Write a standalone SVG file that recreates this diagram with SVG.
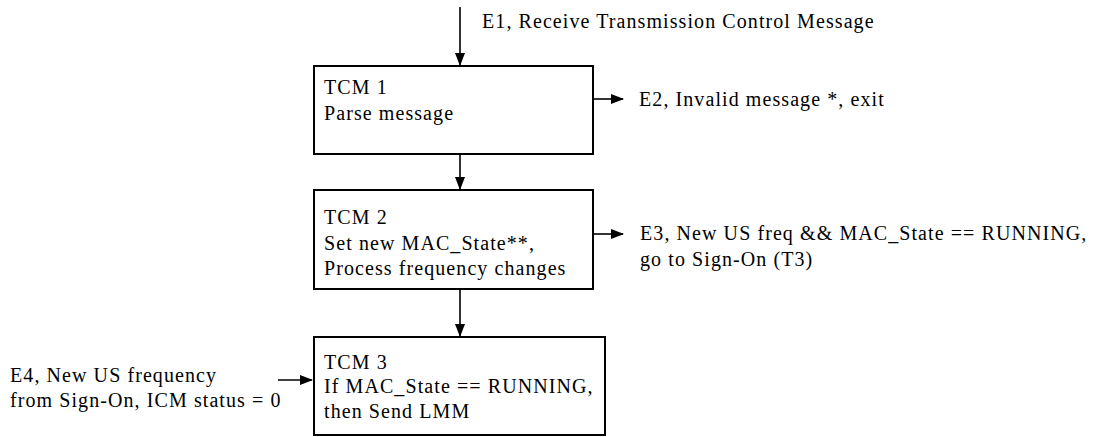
<svg xmlns="http://www.w3.org/2000/svg" width="1097" height="437" viewBox="0 0 1097 437">
<defs>
<style>
.t{font-family:"Liberation Serif","Times New Roman",serif;font-size:20px;letter-spacing:1.08px;fill:#000}
.box{fill:#fff;stroke:#000;stroke-width:2}
.ln{stroke:#000;stroke-width:1.6;fill:none}
</style>
<marker id="ah" markerWidth="13" markerHeight="10" refX="12" refY="5" orient="auto" markerUnits="userSpaceOnUse">
<path d="M0,0 L13,5 L0,10 Z" fill="#000"/>
</marker>
</defs>
<rect width="1097" height="437" fill="#fff"/>
<g id="connectors">
<line class="ln" x1="460" y1="7" x2="460" y2="65" marker-end="url(#ah)"/>
<line class="ln" x1="594" y1="99" x2="623" y2="99" marker-end="url(#ah)"/>
<line class="ln" x1="460" y1="155" x2="460" y2="189" marker-end="url(#ah)"/>
<line class="ln" x1="594" y1="234" x2="623" y2="234" marker-end="url(#ah)"/>
<line class="ln" x1="460" y1="290" x2="460" y2="336" marker-end="url(#ah)"/>
<line class="ln" x1="278" y1="380" x2="312" y2="380" marker-end="url(#ah)"/>
</g>
<g id="label-e1"><text class="t" x="482" y="28">E1, Receive Transmission Control Message</text></g>
<g id="tcm1">
<rect class="box" x="314" y="66" width="279" height="88"/>
<text class="t" x="324" y="94">TCM 1</text>
<text class="t" x="324" y="120">Parse message</text>
</g>
<g id="label-e2"><text class="t" x="639" y="106">E2, Invalid message *, exit</text></g>
<g id="tcm2">
<rect class="box" x="314" y="190" width="279" height="99"/>
<text class="t" x="324" y="224">TCM 2</text>
<text class="t" x="324" y="250">Set new MAC_State**,</text>
<text class="t" x="324" y="275">Process frequency changes</text>
</g>
<g id="label-e3">
<text class="t" x="640" y="240">E3, New US freq &amp;&amp; MAC_State == RUNNING,</text>
<text class="t" x="640" y="266">go to Sign-On (T3)</text>
</g>
<g id="tcm3">
<rect class="box" x="314" y="337" width="291" height="98"/>
<text class="t" x="324" y="369">TCM 3</text>
<text class="t" x="324" y="393">If MAC_State == RUNNING,</text>
<text class="t" x="324" y="418">then Send LMM</text>
</g>
<g id="label-e4">
<text class="t" x="10" y="382">E4, New US frequency</text>
<text class="t" x="10" y="407">from Sign-On, ICM status = 0</text>
</g>
</svg>
